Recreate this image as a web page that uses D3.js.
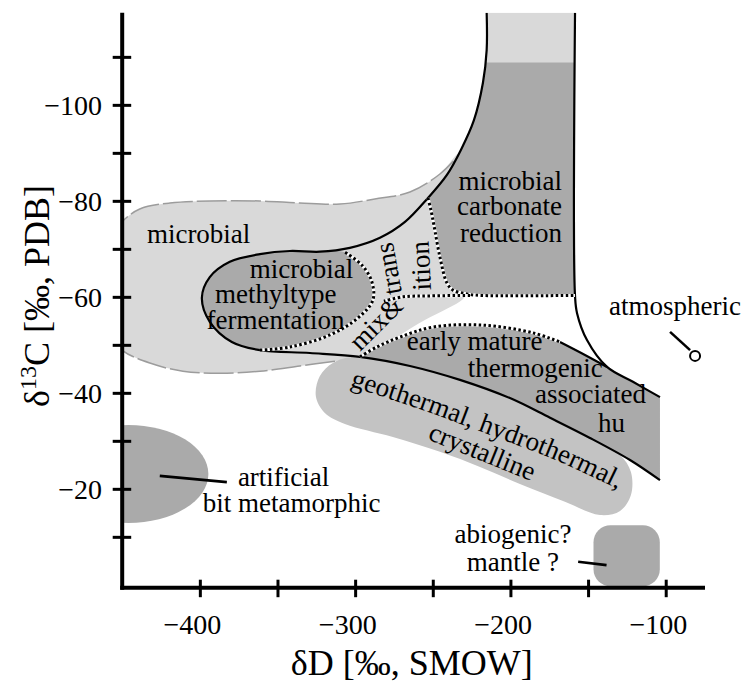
<!DOCTYPE html>
<html><head><meta charset="utf-8">
<script src="https://cdn.jsdelivr.net/npm/d3@7"></script>
<style>
body{margin:0;background:#fff}
svg{display:block}
text{font-family:"Liberation Serif","Times New Roman",serif;fill:#000}
</style></head>
<body><svg id="c" width="743" height="684"></svg>
<script>
// ---------- data (δD ‰ SMOW, δ13C ‰ PDB) ----------
const xTicks = [-400,-350,-300,-250,-200,-150,-100];
const xTickLabels = [-400,-300,-200,-100];
const yTicks = [-110,-100,-90,-80,-70,-60,-50,-40,-30,-20,-10];
const yTickLabels = [-100,-80,-60,-40,-20];
const xDomain = [-450,-74.7];
const yDomain = [0.6,-119.2];

const microbialBlob = [[-464.4,-61.4],[-458,-71.8],[-450.2,-75.6],[-438.7,-78.3],[-419.3,-79.55],[-393.6,-79.97],[-361.3,-79.97],[-335.6,-79.55],[-309.8,-79.34],[-287.3,-80.39],[-264.7,-81.84],[-245.4,-85.6],[-231.2,-90.2],[-220.9,-86.4],[-220.9,-67.7],[-229.3,-60.0],[-240.9,-57.5],[-255.1,-55.2],[-271.2,-52.05],[-287.3,-48.9],[-300.2,-47.5],[-313.0,-46.6],[-335.6,-45.6],[-361.3,-44.5],[-387.1,-44.1],[-410.9,-44.5],[-432.2,-46.2],[-450.2,-48.9],[-461.2,-53.1]];
const blobTopEdge = [[-458,-71.8],[-450.2,-75.6],[-438.7,-78.3],[-419.3,-79.55],[-393.6,-79.97],[-361.3,-79.97],[-335.6,-79.55],[-309.8,-79.34],[-287.3,-80.39],[-264.7,-81.84],[-245.4,-85.6],[-231.2,-90.2]];
const blobBottomEdge = [[-313.0,-46.6],[-335.6,-45.6],[-361.3,-44.5],[-387.1,-44.1],[-410.9,-44.5],[-432.2,-46.2],[-450.2,-48.9],[-461.2,-53.1]];

const funnelUpper = [[-215.3,-119.2],[-215.3,-111.4],[-217.7,-104.6],[-223.5,-96.8],[-231.9,-90.6],[-240.9,-85.4],[-253.1,-80.6],[-267.9,-75.6],[-284.0,-72.3],[-303.4,-70.2],[-322.7,-69.4],[-342.0,-69.55],[-361.3,-68.9],[-380.7,-67.3],[-393.6,-64.1],[-398.7,-59.8],[-393.6,-54.8],[-379.4,-50.6],[-361.3,-48.9],[-329.1,-48.3]];
const lowerBranch = [[-296.9,-47.5],[-264.7,-45.6],[-232.5,-42.7],[-200.3,-38.9],[-174.5,-34.8],[-148.8,-30.6],[-123.0,-26.0],[-103.7,-21.8]];
const funnelRight = [[-158.4,-119.2],[-158.4,-60.2],[-157.1,-56.6],[-150.7,-51.0],[-137.8,-45.4],[-121.1,-42.3],[-103.7,-39.1]];

const methylEllipse = [[-306.6,-69.3],[-322.7,-69.4],[-342.0,-69.55],[-361.3,-68.9],[-380.7,-67.3],[-393.6,-64.1],[-398.7,-59.8],[-393.6,-54.8],[-379.4,-50.6],[-361.3,-48.9],[-342.0,-49.55],[-316.3,-52.05],[-298.2,-55.6],[-288.6,-59.3],[-289.2,-63.1],[-295.6,-66.6]];
const methylDotted = [[-361.3,-48.9],[-342.0,-49.55],[-316.3,-52.05],[-298.2,-55.6],[-288.6,-59.3],[-289.2,-63.1],[-295.6,-66.6],[-306.6,-69.3]];

const columnTop = [[-215.3,-119.2],[-158.4,-108.9]];
const carbonateTopCorners = [[-215.3,-108.9],[-158.4,-108.9],[-158.4,-60.3]];
const carbonateDotted = [[-253.1,-80.6],[-251.2,-78.1],[-249.3,-75.0],[-245.4,-68.3],[-240.9,-62.9],[-237.0,-61.4],[-228.0,-60.6],[-219.6,-60.3],[-158.4,-60.3]];
const mixDotted = [[-226.0,-60.3],[-251.8,-60.2],[-269.2,-60.0],[-281.5,-59.1]];

const earlyDottedTop = [[-296.9,-47.5],[-286.0,-49.55],[-271.2,-51.6],[-249.9,-53.7],[-217.7,-54.1],[-185.5,-52.5],[-168.1,-50.6]];
const earlySolidTop = [[-168.1,-50.6],[-152.0,-47.9],[-137.8,-45.4]];
const earlyRightEdge = [[-137.8,-45.4],[-121.1,-42.3],[-103.7,-39.1],[-103.7,-21.8]];

const geothermal = [[-322.7,-43.5],[-314.3,-46.2],[-300.2,-47.5],[-264.7,-45.6],[-232.5,-42.7],[-200.3,-38.9],[-174.5,-34.8],[-148.8,-30.6],[-129.4,-27.05],[-122.4,-23.5],[-122.4,-18.7],[-129.4,-15.4],[-142.3,-14.55],[-164.9,-17.3],[-193.9,-21.0],[-219.6,-24.55],[-245.4,-27.7],[-275.7,-30.8],[-306.6,-33.5],[-319.5,-35.8],[-325.3,-39.3]];
const geoTextPath = [[-303.4,-41.4],[-258.3,-36.6],[-213.2,-31.2],[-168.1,-25.6],[-116.6,-17.7]];

const artificialCenter = [-446,-23.1];
const artificialRadii = [51.5,10.2];
const abiogenicX = [-146.5,-103.8];
const abiogenicY = [-12.4,0.3];
const artLeader = [[-425.8,-22.7],[-382.6,-21.4]];
const abioLeader = [[-156.4,-4.8],[-138.1,-4.1]];
const atmLeader = [[-97.2,-52.7],[-84.3,-48.9]];
const atmPoint = [-81.1,-47.7];

const labels = [
  {t:"microbial", x:-434.1, y:-71.2, a:"start"},
  {t:"microbial", x:-367.8, y:-63.9, a:"start"},
  {t:"methyltype", x:-390.3, y:-58.65, a:"start"},
  {t:"fermentation", x:-395.7, y:-53.4, a:"start"},
  {t:"microbial", x:-166.8, y:-82.3, a:"end"},
  {t:"carbonate", x:-166.8, y:-77.05, a:"end"},
  {t:"reduction", x:-166.8, y:-71.5, a:"end"},
  {t:"early mature", x:-266.8, y:-48.9, a:"start"},
  {t:"thermogenic", x:-227.4, y:-43.4, a:"start"},
  {t:"associated", x:-184.2, y:-37.9, a:"start"},
  {t:"hu", x:-143.6, y:-31.9, a:"start"},
  {t:"artificial", x:-375.5, y:-20.6, a:"start"},
  {t:"bit metamorphic", x:-398.1, y:-15.2, a:"start"},
  {t:"abiogenic?", x:-198.4, y:-8.7, a:"middle"},
  {t:"mantle ?", x:-198.4, y:-2.9, a:"middle"},
  {t:"atmospheric", x:-94.0, y:-56.2, a:"middle"},
  {t:"mix&", x:-296.9, y:-48.5, a:"start", r:-45},
  {t:"trans", x:-269.9, y:-60.8, a:"start", r:-100},
  {t:"ition", x:-251.1, y:-61.4, a:"start", r:-93},
  {t:"crystalline", x:-253.8, y:-30.4, a:"start", r:22}
];

// ---------- drawing ----------
const x = d3.scaleLinear().domain(xDomain).range([122.2,705]);
const y = d3.scaleLinear().domain(yDomain).range([587.7,12.7]);
const svg = d3.select("#c");
const defs = svg.append("defs");
defs.append("clipPath").attr("id","plot").append("rect")
  .attr("x",x(xDomain[0])).attr("y",y(yDomain[1]))
  .attr("width",x(xDomain[1])-x(xDomain[0])).attr("height",y(yDomain[0])-y(yDomain[1]));

const gen = c => d3.line().x(d=>x(d[0])).y(d=>y(d[1])).curve(c);
const cr = gen(d3.curveCatmullRom.alpha(0.5));
const crc = gen(d3.curveCatmullRomClosed.alpha(0.5));
const lin = gen(d3.curveLinear);
const join = (...p) => p.map((s,i)=> i ? s.replace(/^M/,"L") : s).join("") + "Z";

const LIGHT="#d9d9d9", DARK="#aaaaaa", MID="#c3c3c3";
const g = svg.append("g").attr("clip-path","url(#plot)");

// microbial blob
g.append("path").attr("d",crc(microbialBlob)).attr("fill",LIGHT);
[blobTopEdge, blobBottomEdge].forEach(e=>g.append("path").attr("d",cr(e)).attr("fill","none")
  .attr("stroke","#9c9c9c").attr("stroke-width",1.5).attr("stroke-dasharray","30,4"));
// geothermal
g.append("path").attr("d",crc(geothermal)).attr("fill",MID);
// early mature thermogenic
g.append("path").attr("d",join(cr(earlyDottedTop),cr(earlySolidTop),lin(earlyRightEdge),cr(lowerBranch.slice().reverse())))
  .attr("fill",DARK);
// methyltype ellipse
g.append("path").attr("d",crc(methylEllipse)).attr("fill",DARK);
// carbonate column
g.append("path").attr("d",join(lin(carbonateTopCorners),cr(carbonateDotted.slice().reverse()),cr(funnelUpper.slice(1,7).reverse())))
  .attr("fill",DARK);
g.append("rect").attr("x",x(columnTop[0][0])).attr("y",y(columnTop[0][1]))
  .attr("width",x(columnTop[1][0])-x(columnTop[0][0])).attr("height",y(columnTop[1][1])-y(columnTop[0][1]))
  .attr("fill",LIGHT);
// artificial
g.append("ellipse").attr("cx",x(artificialCenter[0])).attr("cy",y(artificialCenter[1]))
  .attr("rx",x(artificialCenter[0]+artificialRadii[0])-x(artificialCenter[0]))
  .attr("ry",y(artificialCenter[1]+artificialRadii[1])-y(artificialCenter[1]))
  .attr("fill",DARK);
// abiogenic
g.append("rect").attr("x",x(abiogenicX[0])).attr("y",y(abiogenicY[0]))
  .attr("width",x(abiogenicX[1])-x(abiogenicX[0])).attr("height",y(abiogenicY[1])-y(abiogenicY[0]))
  .attr("rx",17).attr("fill",DARK);

// solid lines
const solid = (d,w)=>g.append("path").attr("d",d).attr("fill","none").attr("stroke","#000").attr("stroke-width",w||2.2);
solid(cr(funnelUpper.concat(lowerBranch)));
solid(cr(funnelRight));
solid(cr(earlySolidTop));
// dotted lines
const dotted = d=>{
  g.append("path").attr("d",d).attr("fill","none").attr("stroke","#fff").attr("stroke-width",3);
  g.append("path").attr("d",d).attr("fill","none").attr("stroke","#000").attr("stroke-width",3).attr("stroke-dasharray","2.5,2.5");
};
dotted(cr(methylDotted));
dotted(cr(carbonateDotted));
dotted(cr(mixDotted));
dotted(cr(earlyDottedTop));

// leaders
[artLeader, abioLeader, atmLeader].forEach(l=>solid(lin(l),2.6));
svg.append("circle").attr("cx",x(atmPoint[0])).attr("cy",y(atmPoint[1])).attr("r",5)
  .attr("fill","#fff").attr("stroke","#000").attr("stroke-width",2);

// labels
labels.forEach(l=>{
  const t = svg.append("text").attr("font-size",27).attr("text-anchor",l.a).text(l.t);
  if (l.r!==undefined) t.attr("transform",`translate(${x(l.x)},${y(l.y)}) rotate(${l.r})`);
  else t.attr("x",x(l.x)).attr("y",y(l.y));
});
defs.append("path").attr("id","geoPath").attr("d",cr(geoTextPath));
svg.append("text").attr("font-size",27).append("textPath").attr("href","#geoPath")
  .text("geothermal, hydrothermal,");

// axes
const fmt = d => d<0 ? "\u2212"+Math.abs(d) : String(d);
const yAxis = svg.append("g").attr("transform",`translate(${x(xDomain[0])},0)`)
  .call(d3.axisLeft(y).tickValues(yTicks).tickSize(0).tickFormat(d=>yTickLabels.includes(d)?fmt(d):""));
yAxis.select(".domain").remove();
yAxis.attr("font-size",28).attr("font-family",null);
yAxis.selectAll(".tick line").attr("x1",-9.5).attr("x2",9).attr("stroke","#000").attr("stroke-width",3);
yAxis.selectAll(".tick text").attr("x",-20.2).attr("dy","0.34em").style("font-size","28px");

const xAxis = svg.append("g").attr("transform",`translate(0,${y(yDomain[0])})`)
  .call(d3.axisBottom(x).tickValues(xTicks).tickSize(0).tickFormat(d=>xTickLabels.includes(d)?fmt(d):""));
xAxis.select(".domain").remove();
xAxis.attr("font-size",28).attr("font-family",null);
xAxis.selectAll(".tick line").attr("y1",-8).attr("y2",9.5).attr("stroke","#000").attr("stroke-width",3);
xAxis.selectAll(".tick text").attr("y",46).attr("dy",0).attr("x",21).attr("text-anchor","end").style("font-size","28px");

// spines
svg.append("line").attr("x1",x(xDomain[0])).attr("x2",x(xDomain[0])).attr("y1",y(yDomain[1])).attr("y2",y(yDomain[0])+2)
  .attr("stroke","#000").attr("stroke-width",4);
svg.append("line").attr("x1",x(xDomain[0])-2).attr("x2",x(xDomain[1])).attr("y1",y(yDomain[0])).attr("y2",y(yDomain[0]))
  .attr("stroke","#000").attr("stroke-width",4);

// axis titles
svg.append("text").attr("x",411.7).attr("y",675).attr("text-anchor","middle").attr("font-size",36).text("δD [‰, SMOW]");
const yt = svg.append("text").attr("transform","translate(49,296) rotate(-90)").attr("text-anchor","middle").attr("font-size",36);
yt.append("tspan").text("δ");
yt.append("tspan").attr("dy",-13).attr("font-size",24).text("13");
yt.append("tspan").attr("dy",13).text("C [‰, PDB]");
</script>
</body></html>
